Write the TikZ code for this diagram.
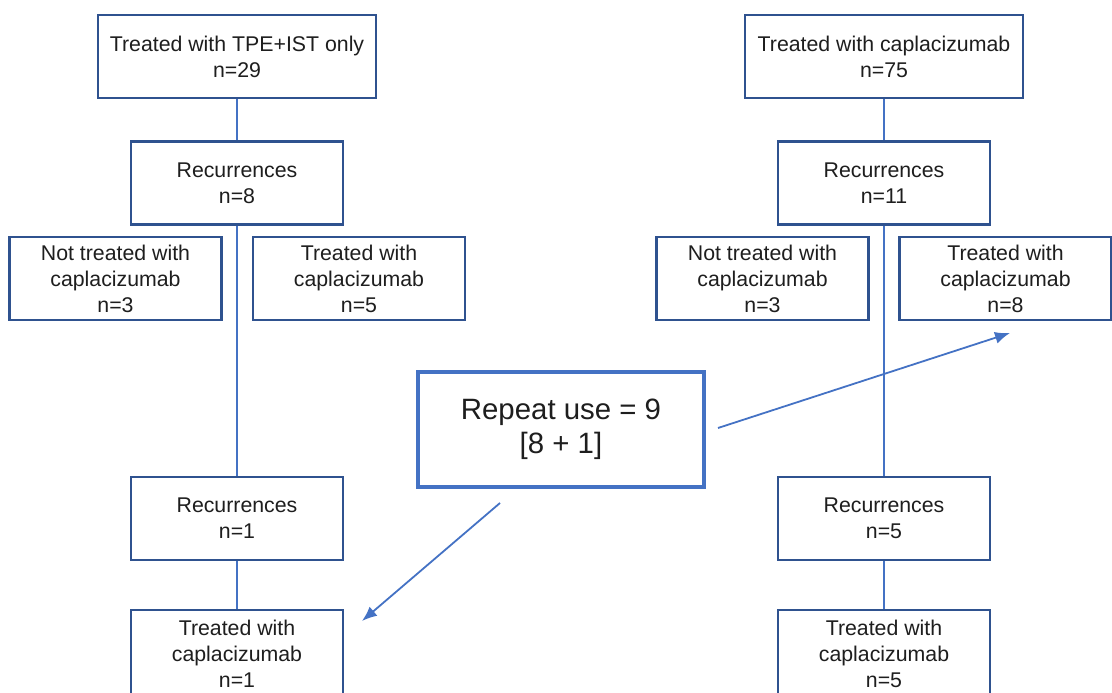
\documentclass[tikz,border=0pt]{standalone}
\usepackage{fontspec}
\setmainfont{Liberation Sans}
\usetikzlibrary{arrows.meta}

\definecolor{boxblue}{HTML}{2F528F}
\definecolor{lineblue}{HTML}{4472C4}
\definecolor{txtgray}{HTML}{1E1E1E}

\tikzset{
  flowbox/.style={draw=boxblue, line width=2.2pt, fill=white, text=txtgray,
    minimum width=212pt, minimum height=83pt, inner sep=0pt, align=center,
    font=\fontsize{21.3}{26}\selectfont},
  widebox/.style={flowbox, minimum width=278pt},
  repeatbox/.style={draw=lineblue, line width=3.6pt, fill=white, text=txtgray,
    minimum width=286pt, minimum height=115pt, inner sep=0pt, align=center,
    font=\fontsize{29.4}{34}\selectfont},
  link/.style={draw=lineblue, line width=1.8pt},
  pointer/.style={link, -{Latex[length=15pt,width=12pt]}}
}

\begin{document}
\begin{tikzpicture}[x=1pt,y=-1pt]
\useasboundingbox (0,0) rectangle (1112,693);
% left arm
\node[widebox] (a0) at (237,56.5) {Treated with TPE+IST only\\n=29};
\node[flowbox] (a1) at (237,183) {Recurrences\\n=8};
\node[flowbox] (a2) at (115.5,278.5) {Not treated with\\caplacizumab\\n=3};
\node[flowbox] (a3) at (359,278.5) {Treated with\\caplacizumab\\n=5};
\node[flowbox] (a4) at (237,518.5) {Recurrences\\n=1};
\node[flowbox, minimum height=88pt] (a5) at (237,654) {Treated with\\caplacizumab\\n=1};
% right arm
\node[widebox] (b0) at (884,56.5) {Treated with caplacizumab\\n=75};
\node[flowbox] (b1) at (884,183) {Recurrences\\n=11};
\node[flowbox] (b2) at (762.5,278.5) {Not treated with\\caplacizumab\\n=3};
\node[flowbox] (b3) at (1005.5,278.5) {Treated with\\caplacizumab\\n=8};
\node[flowbox] (b4) at (884,518.5) {Recurrences\\n=5};
\node[flowbox, minimum height=88pt] (b5) at (884,654) {Treated with\\caplacizumab\\n=5};
% middle
\node[repeatbox] (rep) at (561,429.5) {Repeat use = 9\\{[}8 + 1{]}};
\coordinate (p0) at (718,428);
\coordinate (p1) at (1010,333);
\coordinate (q0) at (500,503);
\coordinate (q1) at (362,621);

\draw[link] (a0) -- (a1);
\draw[link] (a1) -- (a4);
\draw[link] (a4) -- (a5);
\draw[link] (b0) -- (b1);
\draw[link] (b1) -- (b4);
\draw[link] (b4) -- (b5);
\draw[pointer] (p0) -- (p1);
\draw[pointer] (q0) -- (q1);
\end{tikzpicture}
\end{document}
